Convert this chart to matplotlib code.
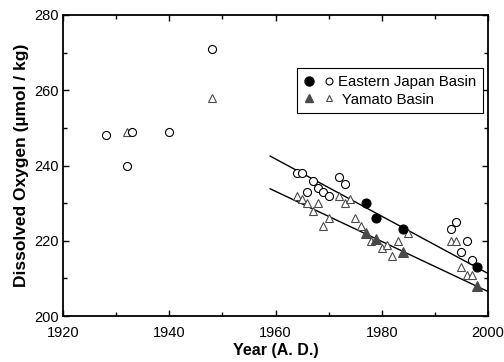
"""Dissolved oxygen trend, Eastern Japan Basin vs Yamato Basin."""
import matplotlib
matplotlib.use("Agg")
import matplotlib.pyplot as plt
from matplotlib.lines import Line2D
from matplotlib.legend_handler import HandlerTuple
from matplotlib.ticker import MultipleLocator

plt.rcParams["font.family"] = ["Liberation Sans", "DejaVu Sans"]

# Eastern Japan Basin
ejb_open_year = [1928, 1932, 1933, 1940, 1948, 1964, 1965, 1966, 1967, 1968,
                 1969, 1970, 1972, 1973, 1993, 1994, 1995, 1996, 1997]
ejb_open_do = [248, 240, 249, 249, 271, 238, 238, 233, 236, 234,
               233, 232, 237, 235, 223, 225, 217, 220, 215]
ejb_fill_year = [1977, 1979, 1984, 1998]
ejb_fill_do = [230, 226, 223, 213]

# Yamato Basin
ym_open_year = [1932, 1948, 1964, 1965, 1966, 1967, 1968, 1969, 1970, 1972,
                1973, 1974, 1975, 1976, 1978, 1980, 1981, 1982, 1983, 1985,
                1993, 1994, 1995, 1996, 1997]
ym_open_do = [249, 258, 232, 231, 230, 228, 230, 224, 226, 232,
              230, 231, 226, 224, 220, 218, 219, 216, 220, 222,
              220, 220, 213, 211, 211]
ym_fill_year = [1977, 1979, 1984, 1998]
ym_fill_do = [222, 220.5, 217, 208]

# regression lines
line_year = [1959, 2000]
ejb_line = [242.5, 211.3]
ym_line = [233.8, 206.5]

TRI = "#4a4a4a"

fig = plt.figure(figsize=(5.04, 3.62), dpi=100)
ax = fig.add_axes([63 / 504, 1 - 316 / 362, 425 / 504, 301 / 362])

ax.plot(line_year, ejb_line, color="black", lw=1.0, zorder=2)
ax.plot(line_year, ym_line, color="black", lw=1.0, zorder=2)

ax.plot(ym_open_year, ym_open_do, ls="none", marker="^", ms=6,
        mfc="white", mec=TRI, mew=0.8, zorder=3)
ax.plot(ym_fill_year, ym_fill_do, ls="none", marker="^", ms=6.5,
        mfc=TRI, mec=TRI, mew=0.8, zorder=4)
ax.plot(ejb_open_year, ejb_open_do, ls="none", marker="o", ms=5.8,
        mfc="white", mec="black", mew=0.8, zorder=3)
ax.plot(ejb_fill_year, ejb_fill_do, ls="none", marker="o", ms=6.5,
        mfc="black", mec="black", mew=0.8, zorder=4)

ax.set_xlim(1920, 2000)
ax.set_ylim(200, 280)
ax.xaxis.set_major_locator(MultipleLocator(20))
ax.xaxis.set_minor_locator(MultipleLocator(10))
ax.yaxis.set_major_locator(MultipleLocator(20))
ax.yaxis.set_minor_locator(MultipleLocator(10))
ax.tick_params(which="both", direction="in", top=True, right=True,
               labelsize=10.5, width=1.0)
ax.tick_params(axis="x", which="major", length=4, pad=7)
ax.tick_params(axis="y", which="major", length=4, pad=3)
ax.tick_params(which="minor", length=3)
for s in ax.spines.values():
    s.set_linewidth(1.3)

ax.set_xlabel("Year (A. D.)", fontsize=11.5, fontweight="bold", labelpad=2)
ax.set_ylabel("Dissolved Oxygen (µmol / kg)", fontsize=12.5,
              fontweight="bold", labelpad=4)

h_ejb = (Line2D([], [], ls="none", marker="o", ms=6.5, mfc="black", mec="black"),
         Line2D([], [], ls="none", marker="o", ms=5, mfc="white", mec="black", mew=0.8))
h_ym = (Line2D([], [], ls="none", marker="^", ms=5.5, mfc=TRI, mec=TRI),
        Line2D([], [], ls="none", marker="^", ms=5, mfc="white", mec=TRI, mew=0.8))
leg = ax.legend([h_ejb, h_ym], ["Eastern Japan Basin", " Yamato Basin"],
                handler_map={tuple: HandlerTuple(ndivide=None, pad=0.6)},
                loc="upper left", bbox_to_anchor=(297 / 504, 1 - 68 / 362),
                bbox_transform=fig.transFigure, fancybox=False,
                edgecolor="black", framealpha=1, fontsize=10.8,
                handlelength=2.0, handletextpad=0.3, borderpad=0.45,
                labelspacing=0.25, borderaxespad=0)
leg.get_frame().set_linewidth(0.8)

fig.savefig("out.png", dpi=100)
